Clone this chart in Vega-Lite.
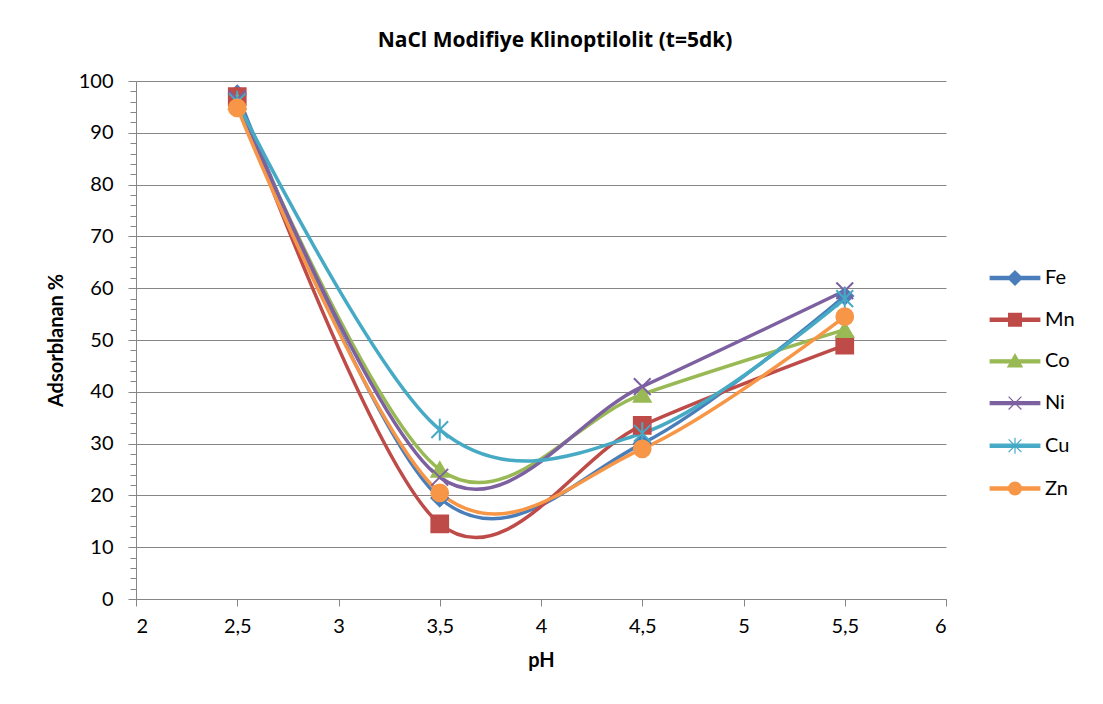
{
  "$schema": "https://vega.github.io/schema/vega-lite/v6.json",
  "autosize": "none",
  "width": 810,
  "height": 518,
  "padding": {"left": 136, "top": 81, "right": 157, "bottom": 105},
  "background": "white",
  "title": {
    "text": "NaCl Modifiye Klinoptilolit (t=5dk)",
    "font": "Open Sans",
    "fontSize": 21,
    "fontWeight": "bold",
    "color": "#000000",
    "anchor": "middle",
    "dx": 14,
    "offset": 20
  },
  "data": {
    "values": [
      {"series": "Fe", "pH": 2.5, "value": 97.5},
      {"series": "Fe", "pH": 3.5, "value": 19.5},
      {"series": "Fe", "pH": 4.5, "value": 30.0},
      {"series": "Fe", "pH": 5.5, "value": 58.5},
      {"series": "Mn", "pH": 2.5, "value": 97.0},
      {"series": "Mn", "pH": 3.5, "value": 14.5},
      {"series": "Mn", "pH": 4.5, "value": 33.5},
      {"series": "Mn", "pH": 5.5, "value": 49.0},
      {"series": "Co", "pH": 2.5, "value": 96.0},
      {"series": "Co", "pH": 3.5, "value": 25.0},
      {"series": "Co", "pH": 4.5, "value": 39.5},
      {"series": "Co", "pH": 5.5, "value": 52.0},
      {"series": "Ni", "pH": 2.5, "value": 96.5},
      {"series": "Ni", "pH": 3.5, "value": 23.5},
      {"series": "Ni", "pH": 4.5, "value": 41.0},
      {"series": "Ni", "pH": 5.5, "value": 59.5},
      {"series": "Cu", "pH": 2.5, "value": 96.0},
      {"series": "Cu", "pH": 3.5, "value": 32.7},
      {"series": "Cu", "pH": 4.5, "value": 32.0},
      {"series": "Cu", "pH": 5.5, "value": 58.0},
      {"series": "Zn", "pH": 2.5, "value": 94.8},
      {"series": "Zn", "pH": 3.5, "value": 20.5},
      {"series": "Zn", "pH": 4.5, "value": 29.0},
      {"series": "Zn", "pH": 5.5, "value": 54.5}
    ]
  },
  "encoding": {
    "x": {
      "field": "pH",
      "type": "quantitative",
      "scale": {"domain": [2, 6], "nice": false, "zero": false},
      "axis": {
        "title": "pH",
        "values": [2, 2.5, 3, 3.5, 4, 4.5, 5, 5.5, 6],
        "format": "~g",
        "labelExpr": "replace(datum.label, '.', ',')",
        "grid": false,
        "tickSize": 7,
        "labelPadding": 10,
        "titlePadding": 14
      }
    },
    "y": {
      "field": "value",
      "type": "quantitative",
      "scale": {"domain": [0, 100], "nice": false},
      "axis": {
        "title": "Adsorblanan %",
        "values": [0, 2, 4, 6, 8, 10, 12, 14, 16, 18, 20, 22, 24, 26, 28, 30, 32, 34, 36, 38, 40, 42, 44, 46, 48, 50, 52, 54, 56, 58, 60, 62, 64, 66, 68, 70, 72, 74, 76, 78, 80, 82, 84, 86, 88, 90, 92, 94, 96, 98, 100],
        "labelExpr": "datum.value % 10 === 0 ? datum.label : ''",
        "gridOpacity": {"condition": {"test": "datum.value % 10 === 0", "value": 1}, "value": 0},
        "tickSize": {"condition": {"test": "datum.value % 10 === 0", "value": 8}, "value": 6},
        "labelPadding": 15,
        "titlePadding": 12
      }
    },
    "color": {
      "field": "series",
      "type": "nominal",
      "sort": ["Fe", "Mn", "Co", "Ni", "Cu", "Zn"],
      "scale": {
        "domain": ["Fe", "Mn", "Co", "Ni", "Cu", "Zn"],
        "range": ["#4A7EBB", "#BE4B48", "#98B954", "#7D60A0", "#46AAC5", "#F79646"]
      },
      "legend": null
    }
  },
  "layer": [
    {
      "mark": {"type": "line", "interpolate": "cardinal", "tension": 0, "strokeWidth": 3.5}
    },
    {
      "mark": {"type": "point", "filled": true, "opacity": 1, "size": 280, "strokeWidth": 2},
      "encoding": {
        "shape": {
          "field": "series",
          "type": "nominal",
          "scale": {
            "domain": ["Fe", "Mn", "Co", "Ni", "Cu", "Zn"],
            "range": ["diamond", "square", "triangle-up", "M-1,-1L1,1M-1,1L1,-1", "M-1,-1L1,1M-1,1L1,-1M0,-1.3L0,1.3", "circle"]
          },
          "legend": null
        },
        "stroke": {
          "field": "series",
          "type": "nominal",
          "scale": {
            "domain": ["Fe", "Mn", "Co", "Ni", "Cu", "Zn"],
            "range": ["#4A7EBB", "#BE4B48", "#98B954", "#7D60A0", "#46AAC5", "#F79646"]
          },
          "legend": null
        }
      }
    },
    {
      "mark": {"type": "point", "filled": true, "opacity": 0, "strokeWidth": 1.2},
      "encoding": {
        "color": {
          "field": "series",
          "type": "nominal",
          "sort": ["Fe", "Mn", "Co", "Ni", "Cu", "Zn"],
          "scale": {
            "domain": ["Fe", "Mn", "Co", "Ni", "Cu", "Zn"],
            "range": ["#4A7EBB", "#BE4B48", "#98B954", "#7D60A0", "#46AAC5", "#F79646"]
          },
          "legend": {
            "title": null,
            "orient": "none",
            "legendX": 869,
            "legendY": 187,
            "symbolSize": 256,
            "symbolOpacity": 1,
            "symbolStrokeWidth": 1.2,
            "labelOffset": 20,
            "rowPadding": 21.7,
            "labelFontSize": 20,
            "labelFont": "Lato",
            "labelColor": "#000000"
          }
        },
        "stroke": {
          "field": "series",
          "type": "nominal",
          "sort": ["Fe", "Mn", "Co", "Ni", "Cu", "Zn"],
          "scale": {
            "domain": ["Fe", "Mn", "Co", "Ni", "Cu", "Zn"],
            "range": ["#4A7EBB", "#BE4B48", "#98B954", "#7D60A0", "#46AAC5", "#F79646"]
          },
          "legend": {
            "title": null,
            "orient": "none",
            "legendX": 869,
            "legendY": 187,
            "symbolSize": 256,
            "symbolOpacity": 1,
            "symbolStrokeWidth": 1.2,
            "labelOffset": 20,
            "rowPadding": 21.7,
            "labelFontSize": 20,
            "labelFont": "Lato",
            "labelColor": "#000000"
          }
        },
        "shape": {
          "field": "series",
          "type": "nominal",
          "sort": ["Fe", "Mn", "Co", "Ni", "Cu", "Zn"],
          "scale": {
            "domain": ["Fe", "Mn", "Co", "Ni", "Cu", "Zn"],
            "range": [
              "M-3.1,-0.2H3.1V0.2H-3.1Z M0,-0.9L0.9,0L0,0.9L-0.9,0Z",
              "M-3.1,-0.2H3.1V0.2H-3.1Z M-0.8,-0.8H0.8V0.8H-0.8Z",
              "M-3.1,-0.2H3.1V0.2H-3.1Z M0,-0.9L0.9,0.7H-0.9Z",
              "M-3.1,-0.2H3.1V0.2H-3.1Z M-0.8,-0.8L0.8,0.8M-0.8,0.8L0.8,-0.8",
              "M-3.1,-0.2H3.1V0.2H-3.1Z M-0.8,-0.8L0.8,0.8M-0.8,0.8L0.8,-0.8M0,-1L0,1",
              "M-3.1,-0.2H3.1V0.2H-3.1Z M-0.8,0A0.8,0.8 0 1,1 0.8,0A0.8,0.8 0 1,1 -0.8,0Z"
            ]
          },
          "legend": {
            "title": null,
            "orient": "none",
            "legendX": 869,
            "legendY": 187,
            "symbolSize": 256,
            "symbolOpacity": 1,
            "symbolStrokeWidth": 1.2,
            "labelOffset": 20,
            "rowPadding": 21.7,
            "labelFontSize": 20,
            "labelFont": "Lato",
            "labelColor": "#000000"
          }
        }
      }
    }
  ],
  "resolve": {
    "scale": {"shape": "independent", "color": "independent", "stroke": "independent"},
    "legend": {"shape": "independent", "color": "independent", "stroke": "independent"}
  },
  "config": {
    "font": "Lato",
    "view": {"stroke": null},
    "axis": {
      "labelFont": "Lato",
      "labelFontSize": 20,
      "labelColor": "#000000",
      "titleFont": "Lato",
      "titleFontSize": 20,
      "titleFontWeight": "bold",
      "titleColor": "#000000",
      "domainColor": "#868686",
      "tickColor": "#868686",
      "gridColor": "#868686",
      "domainWidth": 1,
      "tickWidth": 1,
      "gridWidth": 1
    }
  }
}
